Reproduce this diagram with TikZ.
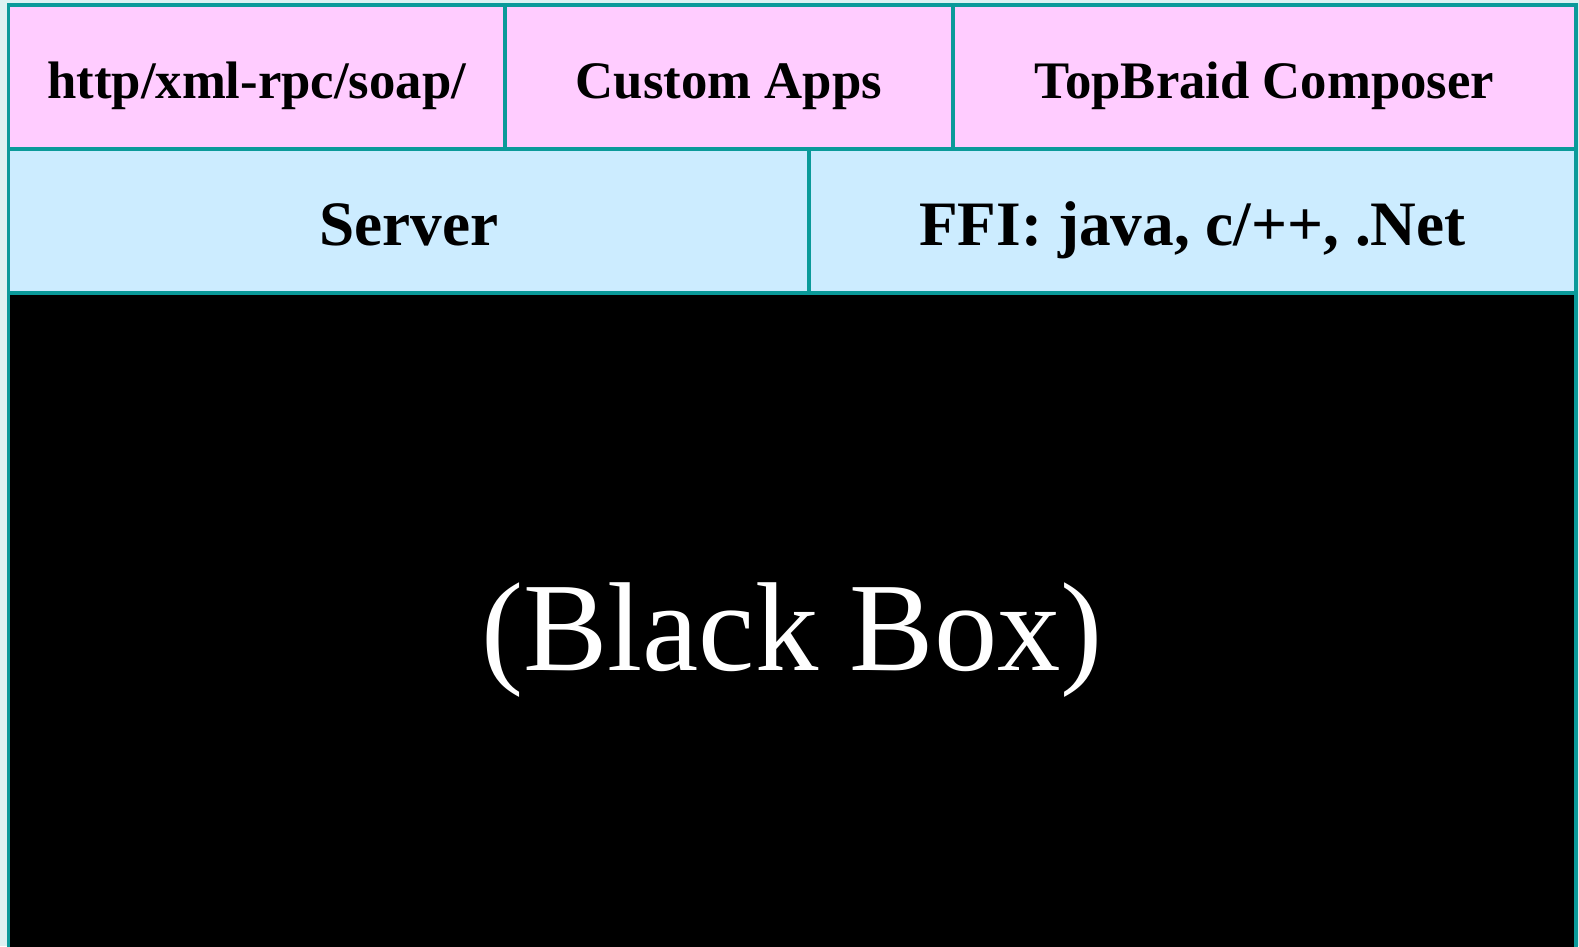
\documentclass[tikz,border=0pt]{standalone}
\usepackage{fontspec}
\setmainfont{Liberation Serif}

\definecolor{cellpink}{HTML}{FFCCFF}
\definecolor{cellblue}{HTML}{CCECFF}
\definecolor{rim}{HTML}{0A9A9A}
\definecolor{backdrop}{HTML}{DCF2F2}

\begin{document}
\begin{tikzpicture}[
    cell/.style={rectangle, draw=rim, line width=0.9pt, inner sep=0pt, outer sep=0pt, anchor=north west},
    appcell/.style={cell, fill=cellpink, minimum height=1.44cm, text height=0.42cm, text depth=0pt, font=\fontsize{15}{18}\selectfont\bfseries},
    midcell/.style={cell, fill=cellblue, minimum height=1.44cm, text height=0.48cm, text depth=0pt, font=\fontsize{18}{21}\selectfont\bfseries}
  ]

        \useasboundingbox (0, 0) rectangle (15.79, -9.46);
        \fill[backdrop] (0, 0) rectangle (15.79, -9.46);

        % Define nodes (boxes)

        \node (core) at ( 0.085, -2.93 ) [cell, fill=black, minimum width=15.675cm, minimum height=6.6cm] { };

        \node (bbox) at ( 7.92, -6.40 ) [text=white, font=\fontsize{36}{40}\selectfont] {(Black Box)};

        \node (rpc) at ( 0.085, -0.05 ) [appcell, minimum width=4.965cm] {http/xml-rpc/soap/};

        \node (apps) at ( 5.05, -0.05 ) [appcell, minimum width=4.48cm] {Custom Apps};

        \node (tbc) at ( 9.53, -0.05 ) [appcell, minimum width=6.23cm] {TopBraid Composer};

        \node (server) at ( 0.085, -1.49 ) [midcell, minimum width=8.005cm] {Server};

        \node (ffi) at ( 8.09, -1.49 ) [midcell, minimum width=7.67cm] {FFI: java, c/++, .Net};

    \end{tikzpicture}
\end{document}
